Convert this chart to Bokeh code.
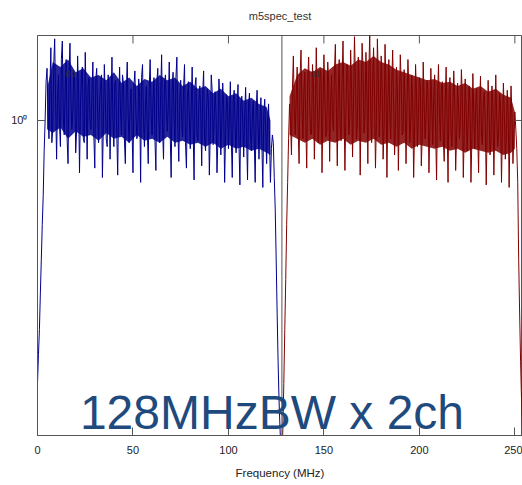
from bokeh.plotting import figure
from bokeh.models import (Range1d, FixedTicker, Span, Label,
                          CustomJSTickFormatter, ColumnDataSource)
from bokeh.embed import file_html
from bokeh.resources import INLINE

# ---------------- data ----------------
title_text = "m5spec_test"
x_label = "Frequency (MHz)"
overlay_text = "128MHzBW x 2ch"
x_ticks = [0, 50, 100, 150, 200, 250]
y_ticks = [1]
channel_names = ["00", "01"]

# channel 0: samples at whole MHz (0..128) and at half MHz (0.5..127.5)
power_ch0 = [
    0.22, 0.30, 0.45, 0.65, 1.00, 1.35, 0.90, 1.52, 0.95, 1.60,
    0.80, 1.30, 0.86, 1.58, 0.92, 1.42, 0.78, 1.56, 0.95, 1.33,
    0.83, 1.45, 0.74, 1.30, 0.90, 1.48, 0.80, 1.28, 0.95, 1.40,
    0.76, 1.35, 0.88, 1.22, 0.72, 1.38, 0.90, 1.30, 0.80, 1.44,
    0.86, 1.26, 0.73, 1.36, 0.92, 1.24, 0.78, 1.40, 0.88, 1.20,
    0.74, 1.33, 0.90, 1.27, 0.70, 1.38, 0.86, 1.22, 0.78, 1.42,
    0.92, 1.28, 0.75, 1.35, 0.88, 1.46, 0.80, 1.30, 0.94, 1.40,
    0.72, 1.32, 0.86, 1.44, 0.79, 1.26, 0.91, 1.38, 0.76, 1.25,
    0.85, 1.36, 0.71, 1.28, 0.89, 1.22, 0.77, 1.33, 0.84, 1.20,
    0.73, 1.30, 0.87, 1.18, 0.74, 1.27, 0.82, 1.24, 0.70, 1.16,
    0.85, 1.25, 0.72, 1.19, 0.83, 1.23, 0.69, 1.15, 0.81, 1.21,
    0.71, 1.17, 0.84, 1.12, 0.70, 1.19, 0.80, 1.14, 0.68, 1.13,
    0.78, 1.10, 0.70, 0.92, 0.72, 0.45, 0.25, 0.17, 0.14,
]
power_ch0_half = [
    0.26, 0.37, 0.55, 0.84, 1.25, 1.05, 1.20, 0.88, 1.38, 1.10,
    1.15, 0.98, 1.42, 1.02, 1.20, 0.90, 1.30, 1.12, 1.05, 1.25,
    0.95, 1.18, 1.08, 1.36, 0.88, 1.12, 1.22, 1.00, 1.16, 0.92,
    1.26, 1.04, 1.10, 1.30, 0.98, 1.14, 0.86, 1.20, 1.08, 1.00,
    1.24, 0.94, 1.12, 1.05, 1.30, 0.90, 1.18, 1.02, 1.10, 0.96,
    1.22, 1.06, 0.92, 1.15, 1.28, 1.00, 1.08, 0.95, 1.20, 1.04,
    1.12, 0.90, 1.25, 1.02, 1.16, 0.96, 1.22, 1.06, 1.10, 0.92,
    1.18, 1.04, 1.28, 0.94, 1.12, 1.00, 1.20, 0.88, 1.14, 1.02,
    1.08, 0.96, 1.22, 0.92, 1.10, 1.04, 1.16, 0.90, 1.06, 1.12,
    0.94, 1.18, 1.00, 1.05, 0.90, 1.14, 0.98, 1.08, 0.93, 1.10,
    1.02, 0.90, 1.12, 0.96, 1.06, 0.88, 1.10, 0.98, 1.04, 0.92,
    1.08, 0.95, 1.02, 0.90, 1.06, 0.97, 1.00, 0.88, 1.04, 0.94,
    0.98, 0.90, 0.85, 0.88, 0.60, 0.33, 0.20, 0.15,
]
# dense core of channel 0's noise band
core_freq_ch0 = [5, 8, 12, 16, 20, 24, 28, 32, 36, 40, 44, 48, 52, 56, 60, 64,
                 68, 72, 76, 80, 84, 88, 92, 96, 100, 104, 108, 112, 116, 120, 122]
core_hi_ch0 = [1.20, 1.40, 1.36, 1.42, 1.32, 1.35, 1.28, 1.30, 1.26, 1.32, 1.24,
               1.28, 1.22, 1.27, 1.25, 1.30, 1.26, 1.28, 1.22, 1.25, 1.20, 1.22,
               1.17, 1.20, 1.15, 1.17, 1.12, 1.14, 1.10, 1.08, 1.00]
core_lo_ch0 = [0.95, 0.93, 0.96, 0.90, 0.94, 0.91, 0.92, 0.89, 0.93, 0.90, 0.91,
               0.88, 0.92, 0.89, 0.90, 0.88, 0.91, 0.88, 0.89, 0.87, 0.88, 0.86,
               0.88, 0.85, 0.87, 0.85, 0.86, 0.84, 0.85, 0.83, 0.82]

# channel 1: samples at whole MHz (128..256) and at half MHz (128.5..255.5)
power_ch1 = [
    0.14, 0.22, 0.40, 0.70, 1.10, 0.82, 1.45, 0.92, 1.36, 0.78,
    1.50, 0.90, 1.32, 0.76, 1.44, 0.93, 1.38, 0.80, 1.52, 0.88,
    1.34, 0.74, 1.46, 0.91, 1.40, 0.79, 1.30, 0.94, 1.55, 0.77,
    1.42, 0.89, 1.58, 0.75, 1.38, 0.92, 1.50, 0.81, 1.62, 0.90,
    1.44, 0.73, 1.56, 0.93, 1.48, 0.78, 1.66, 0.88, 1.52, 0.76,
    1.60, 0.91, 1.45, 0.80, 1.55, 0.72, 1.42, 0.90, 1.50, 0.82,
    1.36, 0.75, 1.46, 0.92, 1.34, 0.78, 1.42, 0.88, 1.30, 0.72,
    1.38, 0.86, 1.28, 0.77, 1.40, 0.90, 1.26, 0.74, 1.35, 0.87,
    1.30, 0.71, 1.38, 0.89, 1.25, 0.79, 1.36, 0.70, 1.28, 0.86,
    1.33, 0.75, 1.24, 0.90, 1.34, 0.72, 1.27, 0.84, 1.22, 0.70,
    1.31, 0.85, 1.20, 0.74, 1.29, 0.87, 1.18, 0.69, 1.26, 0.82,
    1.22, 0.73, 1.30, 0.86, 1.17, 0.70, 1.24, 0.80, 1.19, 0.68,
    1.22, 0.78, 1.05, 0.85, 0.45, 0.25, 0.17, 0.15, 0.14,
]
power_ch1_half = [
    0.17, 0.30, 0.55, 0.90, 1.00, 1.20, 1.05, 1.15, 0.95, 1.28,
    1.08, 1.18, 0.98, 1.25, 1.10, 0.92, 1.22, 1.04, 1.14, 1.00,
    1.30, 1.06, 1.16, 0.94, 1.24, 1.10, 1.02, 1.32, 1.08, 1.18,
    0.96, 1.26, 1.12, 1.04, 1.36, 1.00, 1.20, 1.10, 1.28, 0.98,
    1.22, 1.12, 1.34, 1.02, 1.18, 1.30, 1.06, 1.24, 1.14, 1.00,
    1.28, 1.08, 1.20, 0.96, 1.26, 1.12, 1.04, 1.22, 1.10, 0.98,
    1.18, 1.06, 1.24, 0.94, 1.14, 1.08, 1.20, 1.00, 1.12, 0.96,
    1.16, 1.04, 1.22, 0.92, 1.10, 1.02, 1.18, 0.96, 1.08, 1.14,
    0.94, 1.12, 1.04, 1.20, 0.90, 1.10, 1.00, 1.16, 0.95, 1.06,
    1.12, 0.92, 1.08, 1.02, 1.15, 0.94, 1.06, 0.98, 1.12, 0.90,
    1.04, 1.10, 0.95, 1.08, 0.92, 1.12, 1.00, 0.96, 1.06, 0.90,
    1.10, 0.98, 1.02, 0.93, 1.08, 0.96, 1.04, 0.90, 1.06, 0.98,
    1.02, 0.92, 0.95, 0.70, 0.33, 0.20, 0.16, 0.14,
]
# dense core of channel 1's noise band
core_freq_ch1 = [132, 136, 140, 144, 148, 152, 156, 160, 164, 168, 172, 176, 180,
                 184, 188, 192, 196, 200, 204, 208, 212, 216, 220, 224, 228, 232,
                 236, 240, 244, 248, 250]
core_hi_ch1 = [1.15, 1.30, 1.35, 1.32, 1.36, 1.33, 1.38, 1.40, 1.37, 1.42, 1.40,
               1.45, 1.40, 1.38, 1.34, 1.32, 1.30, 1.28, 1.26, 1.27, 1.24, 1.25,
               1.22, 1.24, 1.20, 1.22, 1.18, 1.20, 1.16, 1.14, 1.05]
core_lo_ch1 = [0.92, 0.90, 0.88, 0.90, 0.87, 0.89, 0.88, 0.90, 0.87, 0.89, 0.88,
               0.90, 0.87, 0.88, 0.86, 0.88, 0.85, 0.87, 0.86, 0.85, 0.86, 0.84,
               0.85, 0.83, 0.85, 0.84, 0.83, 0.84, 0.82, 0.83, 0.85]

band_start = [0, 128]   # MHz, start of each channel's band
band_split = 128        # MHz, boundary between the two channels


def interleave(start, whole, half):
    xs, ys = [], []
    for i, v in enumerate(whole):
        xs.append(start + i)
        ys.append(v)
        if i < len(half):
            xs.append(start + i + 0.5)
            ys.append(half[i])
    return xs, ys


x0, y0 = interleave(band_start[0], power_ch0, power_ch0_half)
x1, y1 = interleave(band_start[1], power_ch1, power_ch1_half)

# ---------------- styling ----------------
FONT = "Liberation Sans"
AX = "#555555"
BLUE = "#00008B"
RED = "#800000"
X_END, Y_LO, Y_HI = 254, 0.163, 1.631

p = figure(width=522, height=485, output_backend="svg", toolbar_location=None,
           y_axis_type="log", x_range=Range1d(0, X_END), y_range=Range1d(Y_LO, Y_HI),
           min_border_left=37, min_border_right=0, min_border_top=35, min_border_bottom=50)

# a blank second line lifts the title a few pixels higher above the box
p.title.text = title_text + "\n"
p.title.align = "center"
p.title.text_font = FONT
p.title.text_font_size = "11px"
p.title.text_font_style = "normal"
p.title.text_color = "#333333"
p.title.text_line_height = 0.75

p.outline_line_color = AX
p.outline_line_width = 1
p.grid.visible = False
p.background_fill_color = "white"
p.border_fill_color = "white"

p.varea(x=core_freq_ch0, y1=core_lo_ch0, y2=core_hi_ch0, fill_color=BLUE, fill_alpha=0.85)
p.varea(x=core_freq_ch1, y1=core_lo_ch1, y2=core_hi_ch1, fill_color=RED, fill_alpha=0.85)
src0 = ColumnDataSource(dict(x=x0, y=y0))
src1 = ColumnDataSource(dict(x=x1, y=y1))
p.line("x", "y", source=src0, line_color=BLUE, line_width=1)
p.line("x", "y", source=src1, line_color=RED, line_width=1)

p.add_layout(Span(location=band_split, dimension="height", line_color=AX, line_width=1))

# main axes
xa = p.xaxis[0]
xa.ticker = FixedTicker(ticks=x_ticks, minor_ticks=[])
xa.axis_label = x_label
ya = p.yaxis[0]
ya.ticker = FixedTicker(ticks=y_ticks, minor_ticks=[])
ya.formatter = CustomJSTickFormatter(code="return tick == 1 ? '10\u2070' : '';")

for ax in (xa, ya):
    ax.axis_line_color = AX
    ax.major_tick_line_color = AX
    ax.major_tick_in = 8
    ax.major_tick_out = 0
    ax.minor_tick_line_color = None
    ax.major_label_text_font = FONT
    ax.major_label_text_font_size = "11px"
    ax.major_label_text_color = "#222222"
    ax.axis_label_text_font = FONT
    ax.axis_label_text_font_size = "11.5px"
    ax.axis_label_text_font_style = "normal"
    ax.axis_label_text_color = "#222222"
xa.major_label_standoff = 10
xa.axis_label_standoff = 10
ya.major_label_standoff = 10

# mirrored inward ticks on the top and right edges of the box
tick_len_x = 8 * X_END / 485.0          # 8 px expressed in MHz
tick_fac_y = 10 ** (8 / 400.0)          # 8 px expressed as a log factor
p.segment(x0=x_ticks, x1=x_ticks, y0=[Y_HI] * len(x_ticks),
          y1=[Y_HI / tick_fac_y] * len(x_ticks), line_color=AX, line_width=1)
p.segment(x0=[X_END] * len(y_ticks), x1=[X_END - tick_len_x] * len(y_ticks),
          y0=y_ticks, y1=y_ticks, line_color=AX, line_width=1)

# channel tags (mostly hidden behind traces)
p.add_layout(Label(x=14.7, y=1.31, text=channel_names[0], text_font=FONT,
                   text_font_size="9px", text_color="#333333",
                   text_align="left", text_baseline="middle"))
p.add_layout(Label(x=143, y=1.31, text=channel_names[1], text_font=FONT,
                   text_font_size="9px", text_color="#333333",
                   text_align="left", text_baseline="middle"))

# big overlay caption
p.add_layout(Label(x=122.8, y=0.186, text=overlay_text, text_font=FONT,
                   text_font_size="48px", text_color="#1F4A7D",
                   text_align="center", text_baseline="alphabetic"))

open("out.html", "w").write(file_html(p, INLINE))
